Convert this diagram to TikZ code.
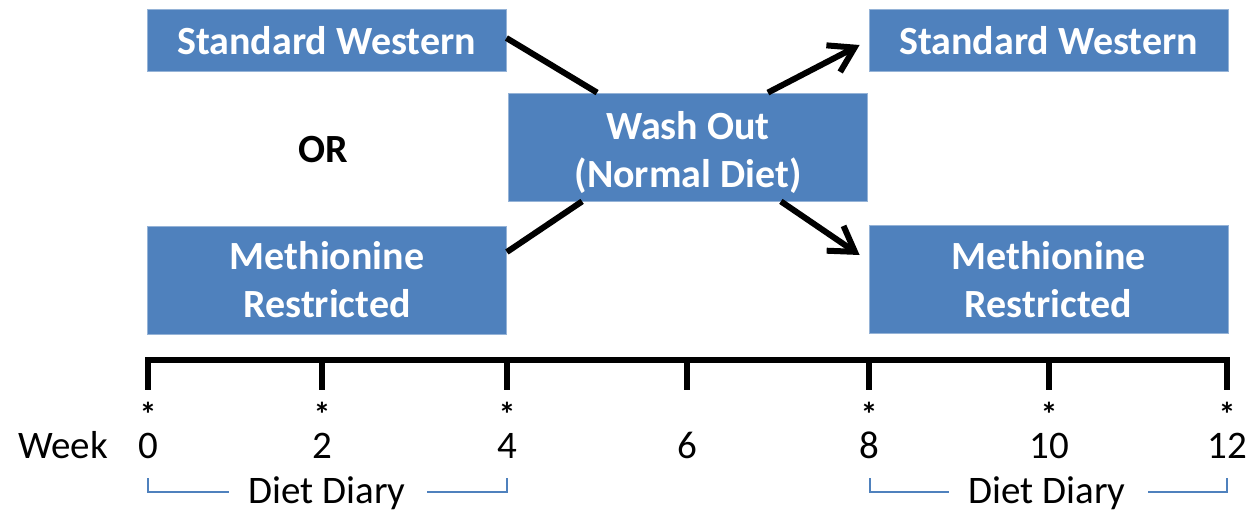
\documentclass[tikz,border=0pt]{standalone}
\usepackage{fontspec}
\setmainfont{Carlito}
\usetikzlibrary{arrows.meta,calc}
\definecolor{boxblue}{HTML}{4F81BD}
\definecolor{boxedge}{HTML}{95B3D7}
\tikzset{
  diet/.style={rectangle, fill=boxblue, draw=boxedge, line width=0.8pt, text=white,
    font=\fontsize{40}{48}\selectfont\bfseries, align=center, inner sep=0pt,
    minimum width=359pt},
  onebox/.style={diet, minimum height=62pt, text height=30pt, text depth=0pt},
  twobox/.style={diet, minimum height=108pt},
  link/.style={line width=6pt, black},
  linkarrow/.style={link, -{Straight Barb[length=24pt,width=30pt,line width=6pt]}},
  tline/.style={line width=5.5pt, black},
  tlabel/.style={font=\fontsize{39}{44}\selectfont, anchor=base, inner sep=0pt},
  star/.style={font=\fontsize{34}{36}\selectfont\bfseries, anchor=base, inner sep=0pt,
    text height=10pt, text depth=0pt},
  bracket/.style={draw=boxblue, line width=2pt},
}
\begin{document}
\begin{tikzpicture}[x=1pt,y=-1pt]
\path[use as bounding box] (0,0) rectangle (1252,511);

% boxes
\node[onebox] (sw1) at (326.5,40) {Standard Western};
\node[twobox] (mr1) at (327,280) {Methionine\\Restricted};
\node[twobox] (wash) at (688,147) {\raisebox{0pt}[39pt]{Wash Out}\\(Normal Diet)};
\node[onebox] (sw2) at (1048.5,40) {Standard Western};
\node[twobox] (mr2) at (1048.5,279.5) {Methionine\\Restricted};
\node[font=\fontsize{40}{48}\selectfont\bfseries, anchor=base, inner sep=0pt] (or) at (323,162) {OR};

% connectors
\draw[link] ([yshift=2pt]sw1.east) -- ([xshift=89pt]wash.north west);
\draw[link] (mr1.south east |- 0,252) -- ([xshift=74pt]wash.south west);
\draw[linkarrow] ([xshift=-100pt]wash.north east) -- ([xshift=-9pt,yshift=-5pt]sw2.west);
\draw[linkarrow] ([xshift=-87pt]wash.south east) -- ([xshift=-9pt]mr2.west |- 0,255);

% timeline
\coordinate (t0) at (148,360);
\coordinate (t2) at (322,360);
\coordinate (t4) at (507,360);
\coordinate (t6) at (687,360);
\coordinate (t8) at (869,360);
\coordinate (t10) at (1049,360);
\coordinate (t12) at (1227,360);
\draw[tline] ([xshift=-2.75pt]t0) -- ([xshift=2.75pt]t12);
\foreach \t in {t0,t2,t4,t6,t8,t10,t12} {
  \draw[tline] (\t) -- ++(0,30);
}
\foreach \t/\n in {t0/0,t2/2,t4/4,t6/6,t8/8,t10/10,t12/12} {
  \node[tlabel] (n\n) at ([yshift=-98pt]\t) {\n};
}
\foreach \t/\n in {t0/0,t2/2,t4/4,t8/8,t10/10,t12/12} {
  \node[star] (s\n) at ([yshift=-66pt]\t) {*};
}
\node[tlabel] (week) at (63,458) {Week};

% diet diary brackets
\node[tlabel] (dd1) at (327,503) {Diet Diary};
\node[tlabel] (dd2) at (1047,503) {Diet Diary};
\draw[bracket] (148,478) -- (148,492) -- (229,492);
\draw[bracket] (427,492) -- (507,492) -- (507,478);
\draw[bracket] (870,478) -- (870,492) -- (949,492);
\draw[bracket] (1148,492) -- (1227,492) -- (1227,478);
\end{tikzpicture}
\end{document}
